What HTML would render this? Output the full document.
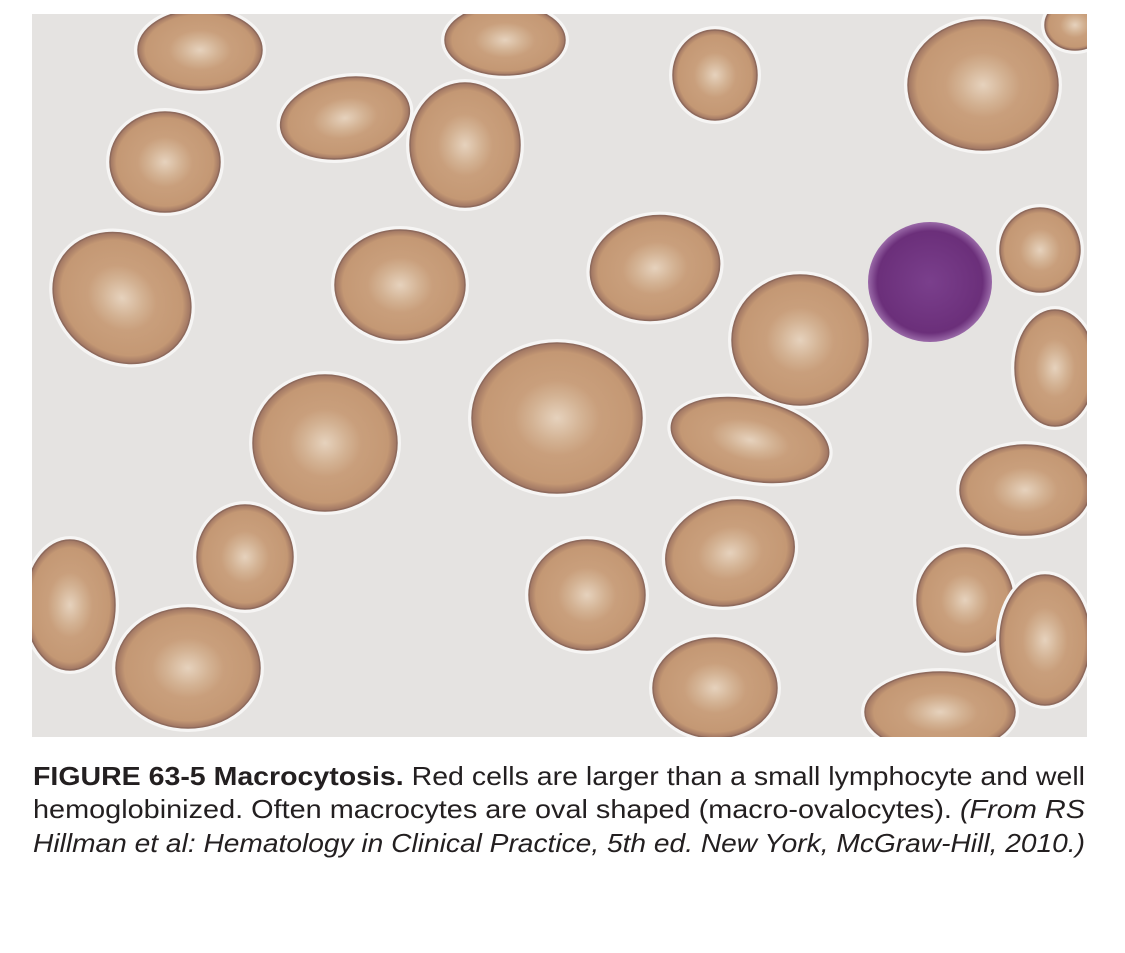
<!DOCTYPE html>
<html><head><meta charset="utf-8">
<style>
html,body{margin:0;padding:0;background:#fff;width:1125px;height:953px;overflow:hidden}
svg{display:block}
text{font-family:"Liberation Sans Narrow","Liberation Sans",sans-serif;font-size:26px;fill:#231f20}
</style></head>
<body>
<svg width="1125" height="953" viewBox="0 0 1125 953">
<defs>
<clipPath id="c"><rect x="32" y="14" width="1055" height="723"/></clipPath>
<radialGradient id="rbc" cx="50%" cy="50%" r="50%">
<stop offset="0" stop-color="#e6d2bd"/><stop offset="0.3" stop-color="#d3b293"/>
<stop offset="0.5" stop-color="#c99f7c"/><stop offset="0.88" stop-color="#c49874"/><stop offset="1" stop-color="#9e7462"/>
</radialGradient>
<radialGradient id="lym" cx="50%" cy="50%" r="50%">
<stop offset="0" stop-color="#7a3f8c"/><stop offset="0.85" stop-color="#6b2f7a"/><stop offset="1" stop-color="#9a6aa8"/>
</radialGradient>
</defs>
<rect x="32" y="14" width="1055" height="723" fill="#e5e3e1"/>
<g clip-path="url(#c)" id="cells"></g>
<g>
<text x="33" y="785" textLength="1052" lengthAdjust="spacingAndGlyphs"><tspan font-weight="bold">FIGURE 63-5  Macrocytosis.</tspan> Red cells are larger than a small lymphocyte and well</text>
<text x="33" y="818" textLength="1052" lengthAdjust="spacingAndGlyphs">hemoglobinized. Often macrocytes are oval shaped (macro-ovalocytes). <tspan font-style="italic">(From RS</tspan></text>
<text x="33" y="852" textLength="1052" lengthAdjust="spacingAndGlyphs" font-style="italic">Hillman et al: Hematology in Clinical Practice, 5th ed. New York, McGraw-Hill, 2010.)</text>
</g>
</svg>
<script>
const cells=[
[200,50,62,40,0],[345,118,65,40,-10],[465,145,55,62,0],[505,40,60,35,0],[715,75,42,45,0],
[983,85,75,65,0],[1075,25,30,25,0],[165,162,55,50,0],[122,298,72,62,35],[400,285,65,55,0],
[655,268,65,52,-10],[800,340,68,65,0],[1040,250,40,42,0],[1055,368,40,58,0],[325,443,72,68,0],
[557,418,85,75,0],[750,440,80,40,12],[1025,490,65,45,0],[245,557,48,52,0],[730,553,65,52,-15],
[587,595,58,55,0],[70,605,45,65,0],[188,668,72,60,0],[715,688,62,50,0],[965,600,48,52,0],
[1045,640,45,65,0],[940,712,75,40,0]
];
const g=document.getElementById('cells');
const NS='http://www.w3.org/2000/svg';
cells.forEach((c,i)=>{
  const halo=document.createElementNS(NS,'ellipse');
  halo.setAttribute('cx',c[0]);halo.setAttribute('cy',c[1]);halo.setAttribute('rx',c[2]+4);halo.setAttribute('ry',c[3]+4);
  halo.setAttribute('transform',`rotate(${c[4]} ${c[0]} ${c[1]})`);halo.setAttribute('fill','#f6f5f4');
  
  
  g.appendChild(halo);
  const e=document.createElementNS(NS,'ellipse');
  e.setAttribute('cx',c[0]);e.setAttribute('cy',c[1]);e.setAttribute('rx',c[2]);e.setAttribute('ry',c[3]);
  e.setAttribute('transform',`rotate(${c[4]} ${c[0]} ${c[1]})`);e.setAttribute('fill','url(#rbc)');
  e.setAttribute('stroke','#8e6a5c');e.setAttribute('stroke-width','1.5');
  
  
  g.appendChild(e);
});
const l=document.createElementNS(NS,'ellipse');
l.setAttribute('cx',930);l.setAttribute('cy',282);l.setAttribute('rx',62);l.setAttribute('ry',60);l.setAttribute('fill','url(#lym)');


g.appendChild(l);
</script>
</body></html>
